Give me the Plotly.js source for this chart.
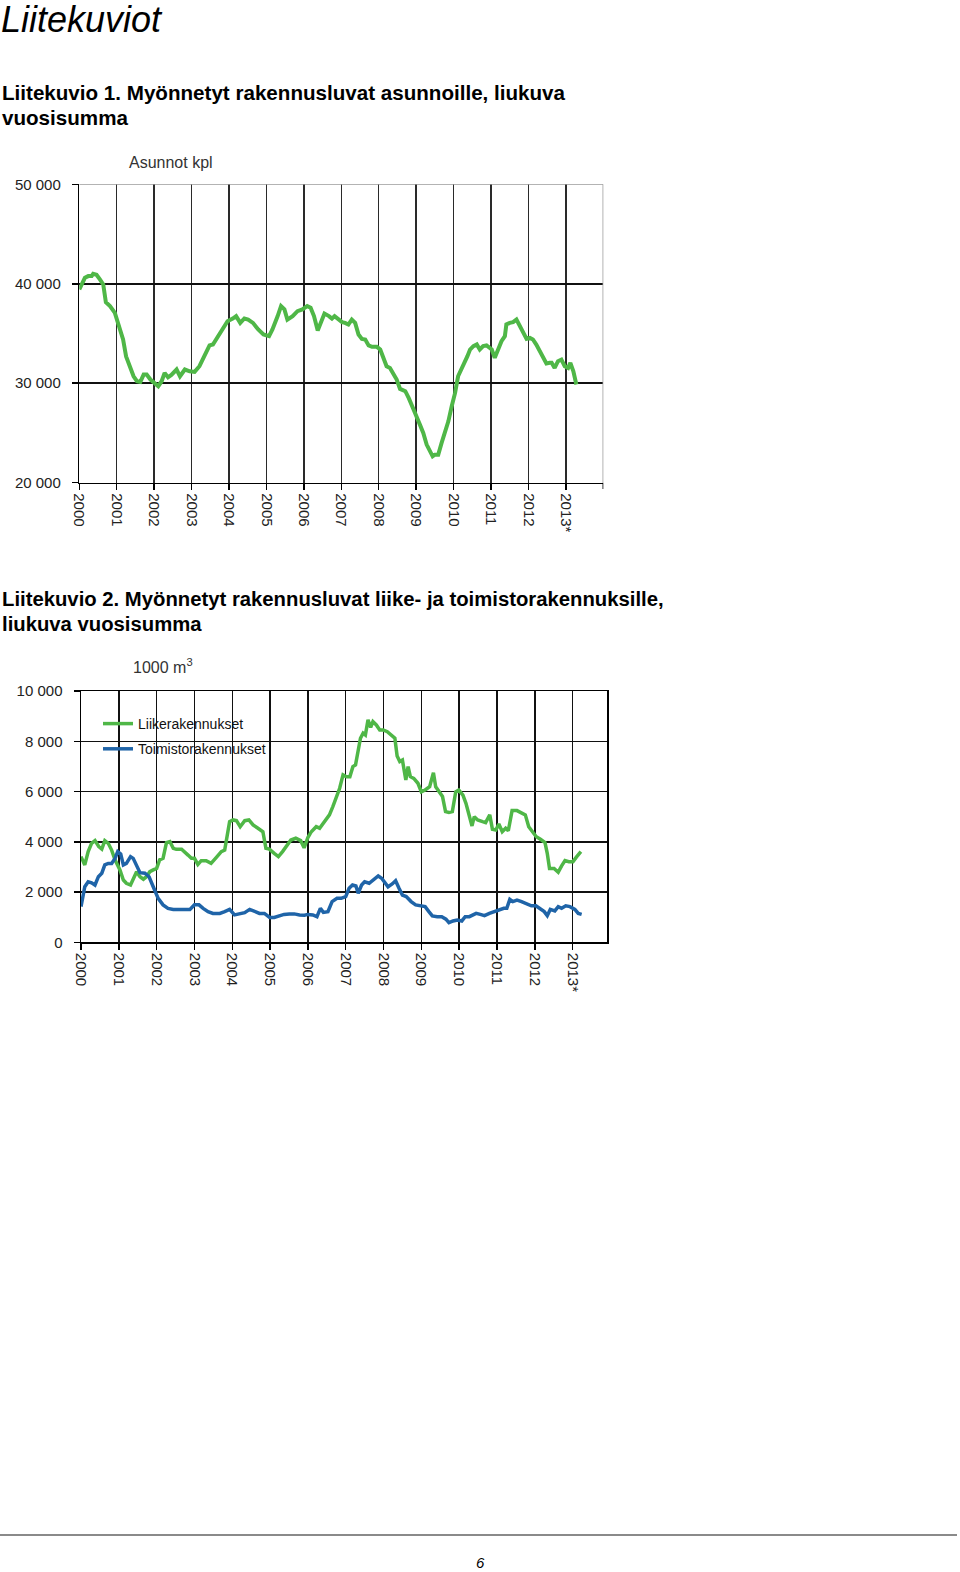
<!DOCTYPE html>
<html>
<head>
<meta charset="utf-8">
<script src="https://cdn.plot.ly/plotly-3.0.1.min.js"></script>
<style>
  html, body { margin: 0; padding: 0; background: #fff; }
  #page { width: 960px; height: 1572px; }
</style>
</head>
<body>
<div id="page"></div>
<script>
// ---------- Data ----------
const yearTicks = [2000, 2001, 2002, 2003, 2004, 2005, 2006, 2007, 2008, 2009, 2010, 2011, 2012, 2013];
const yearLabels = ['2000', '2001', '2002', '2003', '2004', '2005', '2006', '2007', '2008', '2009', '2010', '2011', '2012', '2013*'];

const housingTicks = [20000, 30000, 40000, 50000];
const housingTickLabels = ['20 000', '30 000', '40 000', '50 000'];

const volumeTicks = [0, 2000, 4000, 6000, 8000, 10000];
const volumeTickLabels = ['0', '2 000', '4 000', '6 000', '8 000', '10 000'];

// Liitekuvio 1: Asunnot kpl (rolling annual sum)
const housingYears = [
  2000.00, 2000.15, 2000.24, 2000.33, 2000.37, 2000.46, 2000.55, 2000.64, 2000.71, 2000.82, 2000.95,
  2001.08, 2001.17, 2001.25, 2001.36, 2001.45, 2001.54, 2001.63, 2001.72, 2001.80, 2001.90,
  2002.02, 2002.11, 2002.20, 2002.28, 2002.37, 2002.46, 2002.60, 2002.69, 2002.82, 2002.95,
  2003.08, 2003.21, 2003.34, 2003.48, 2003.57, 2003.70, 2003.83, 2003.96,
  2004.10, 2004.19, 2004.30, 2004.41, 2004.51, 2004.64, 2004.78, 2004.92,
  2005.07, 2005.16, 2005.30, 2005.39, 2005.48, 2005.56, 2005.70, 2005.83, 2005.96,
  2006.09, 2006.18, 2006.27, 2006.37, 2006.46, 2006.55, 2006.67, 2006.75, 2006.82, 2006.93,
  2007.02, 2007.10, 2007.19, 2007.28, 2007.37, 2007.46, 2007.55, 2007.64, 2007.73, 2007.82, 2007.95,
  2008.04, 2008.12, 2008.21, 2008.30, 2008.39, 2008.48, 2008.57, 2008.71, 2008.80, 2008.88, 2008.97,
  2009.10, 2009.19, 2009.28, 2009.37, 2009.44, 2009.50, 2009.59, 2009.68, 2009.77, 2009.86, 2009.95,
  2010.04, 2010.12, 2010.21, 2010.30, 2010.37, 2010.44, 2010.53, 2010.62, 2010.70, 2010.79, 2010.88,
  2011.02, 2011.10, 2011.19, 2011.28, 2011.37, 2011.41, 2011.50, 2011.59, 2011.68, 2011.77, 2011.86, 2011.95,
  2012.04, 2012.12, 2012.21, 2012.30, 2012.39, 2012.48, 2012.57, 2012.62, 2012.70, 2012.79, 2012.88, 2012.97,
  2013.06, 2013.12, 2013.20, 2013.28
];
const housingUnits = [
  39430, 40600, 40770, 40770, 41000, 40900, 40440, 39930, 38150, 37750, 37080,
  35400, 34400, 32700, 31700, 30700, 30200, 30130, 30870, 30870, 30370,
  30000, 29700, 30200, 31040, 30600, 30840, 31380, 30700, 31380, 31200,
  31140, 31710, 32720, 33800, 33900, 34730, 35400, 36240,
  36500, 36750, 36070, 36510, 36400, 36070, 35400, 34900,
  34730, 35400, 36750, 37750, 37420, 36400, 36750, 37250, 37420,
  37750, 37600, 36750, 35300, 36220, 37000, 36750, 36500, 36750, 36400,
  36140, 36070, 35900, 36400, 36070, 34900, 34460, 34400, 33800, 33660, 33660,
  33390, 32550, 31710, 31540, 30870, 30370, 29430, 29200, 28520, 27680, 27010,
  25840, 25000, 23830, 23160, 22650, 22820, 22820, 24000, 25000, 26170, 27680,
  29030, 30700, 31380, 32050, 32720, 33390, 33730, 33900, 33390, 33730, 33800,
  33390, 32550, 33390, 34230, 34730, 35910, 36070, 36140, 36400, 35740, 35070, 34460,
  34560, 34400, 33890, 33220, 32550, 31980, 32050, 32050, 31540, 32220, 32380, 31710,
  31540, 32050, 31210, 29870
];

// Liitekuvio 2: 1000 m3 (rolling annual sum)
const liikeYears = [
  2000.00, 2000.10, 2000.19, 2000.28, 2000.37, 2000.47, 2000.55, 2000.63, 2000.72, 2000.81, 2000.90,
  2001.03, 2001.12, 2001.20, 2001.31, 2001.38, 2001.47, 2001.56, 2001.65, 2001.73, 2001.82, 2001.91,
  2002.00, 2002.08, 2002.17, 2002.26, 2002.35, 2002.44, 2002.52, 2002.66, 2002.74, 2002.83, 2002.92,
  2003.00, 2003.09, 2003.18, 2003.31, 2003.44, 2003.58, 2003.71, 2003.80, 2003.89, 2003.93,
  2004.02, 2004.11, 2004.21, 2004.33, 2004.44, 2004.55, 2004.68, 2004.81, 2004.89, 2004.98,
  2005.11, 2005.22, 2005.33, 2005.42, 2005.55, 2005.68, 2005.81, 2005.90,
  2006.00, 2006.09, 2006.22, 2006.31, 2006.40, 2006.49, 2006.57, 2006.66, 2006.75, 2006.84, 2006.93,
  2007.02, 2007.11, 2007.19, 2007.26, 2007.33, 2007.39, 2007.46, 2007.52, 2007.59, 2007.66, 2007.72, 2007.81, 2007.90, 2007.99,
  2008.10, 2008.21, 2008.30, 2008.36, 2008.43, 2008.50, 2008.59, 2008.65, 2008.71, 2008.80, 2008.91,
  2009.00, 2009.10, 2009.22, 2009.32, 2009.38, 2009.47, 2009.56, 2009.64, 2009.73, 2009.82, 2009.91, 2009.99,
  2010.10, 2010.18, 2010.27, 2010.34, 2010.40, 2010.49, 2010.62, 2010.70, 2010.81, 2010.88, 2010.97,
  2011.05, 2011.14, 2011.23, 2011.30, 2011.40, 2011.53, 2011.65, 2011.75, 2011.84, 2011.93,
  2012.04, 2012.15, 2012.27, 2012.33, 2012.39, 2012.51, 2012.62, 2012.71, 2012.80, 2012.90,
  2013.01, 2013.11, 2013.22
];
const liikeVolume = [
  3410, 3080, 3610, 3940, 4045, 3810, 3710, 4045, 3940, 3670, 3280,
  2880, 2480, 2350, 2280, 2480, 2810, 2610, 2510, 2610, 2810, 2880,
  2940, 3280, 3340, 3970, 4010, 3740, 3700, 3700, 3610, 3470, 3340,
  3340, 3100, 3250, 3250, 3140, 3380, 3610, 3670, 4400, 4800,
  4870, 4840, 4600, 4840, 4870, 4670, 4540, 4400, 3740, 3710,
  3540, 3410, 3610, 3810, 4070, 4140, 4045, 3760,
  4170, 4400, 4600, 4540, 4730, 4870, 5070, 5400, 5800, 6130, 6660,
  6590, 6590, 6990, 7060, 7650, 8120, 8320, 8250, 8850, 8550, 8780, 8650, 8450, 8450,
  8380, 8250, 8120, 7410, 7190, 7250, 6460, 6990, 6590, 6520, 6330,
  5990, 6060, 6190, 6750, 6190, 5990, 5800, 5200, 5170, 5200, 5990, 6060,
  5860, 5530, 5000, 4630, 5000, 4870, 4800, 4760, 5070, 4500, 4470,
  4710, 4400, 4540, 4440, 5240, 5240, 5160, 5070, 4600, 4400,
  4200, 4100, 3970, 3540, 2940, 2940, 2790, 3040, 3250, 3210,
  3210, 3410, 3610
];

const toimistoYears = [
  2000.00, 2000.10, 2000.19, 2000.28, 2000.37, 2000.46, 2000.55, 2000.63, 2000.72, 2000.81, 2000.90, 2000.97,
  2001.05, 2001.12, 2001.20, 2001.31, 2001.38, 2001.47, 2001.56, 2001.69, 2001.80, 2001.91,
  2002.04, 2002.17, 2002.30, 2002.44, 2002.57, 2002.70, 2002.88,
  2003.00, 2003.12, 2003.23, 2003.36, 2003.49, 2003.67, 2003.80, 2003.93,
  2004.06, 2004.20, 2004.33, 2004.46, 2004.59, 2004.72, 2004.85, 2004.99,
  2005.11, 2005.24, 2005.37, 2005.51, 2005.64, 2005.78, 2005.91,
  2006.00, 2006.13, 2006.24, 2006.33, 2006.41, 2006.53, 2006.64, 2006.77, 2006.88,
  2007.00, 2007.09, 2007.18, 2007.27, 2007.33, 2007.42, 2007.50, 2007.62, 2007.73, 2007.86, 2007.95,
  2008.04, 2008.12, 2008.23, 2008.32, 2008.41, 2008.50, 2008.60, 2008.73, 2008.85, 2008.98,
  2009.10, 2009.20, 2009.29, 2009.42, 2009.54, 2009.65, 2009.73, 2009.84, 2009.95,
  2010.07, 2010.16, 2010.27, 2010.36, 2010.45, 2010.56, 2010.67, 2010.80, 2010.94,
  2011.05, 2011.18, 2011.26, 2011.34, 2011.42, 2011.53, 2011.65, 2011.78, 2011.91,
  2012.03, 2012.13, 2012.25, 2012.33, 2012.41, 2012.53, 2012.62, 2012.71, 2012.82, 2012.93,
  2013.06, 2013.15, 2013.24
];
const toimistoVolume = [
  1420, 2210, 2410, 2370, 2280, 2610, 2750, 3080, 3140, 3140, 3340, 3610,
  3510, 3080, 3140, 3410, 3340, 3040, 2770, 2750, 2610, 2210,
  1750, 1490, 1350, 1310, 1310, 1310, 1310,
  1490, 1490, 1350, 1220, 1150, 1150, 1220, 1310,
  1090, 1150, 1180, 1310, 1220, 1150, 1150, 990,
  990, 1050, 1110, 1130, 1130, 1090, 1080,
  1110, 1090, 1020, 1350, 1190, 1220, 1620, 1750, 1750,
  1820, 2150, 2280, 2240, 1950, 2280, 2410, 2350, 2480, 2640, 2550,
  2350, 2210, 2320, 2450, 2150, 1880, 1820, 1620, 1490, 1450,
  1420, 1220, 1050, 1020, 1020, 920, 780, 850, 890,
  850, 1020, 1020, 1090, 1150, 1110, 1060, 1150, 1220,
  1260, 1350, 1350, 1710, 1620, 1680, 1620, 1530, 1450,
  1450, 1350, 1220, 1060, 1310, 1250, 1420, 1350, 1450, 1420,
  1310, 1150, 1110
];

// ---------- Helpers (page pixel -> paper coordinates) ----------
const W = 960, H = 1572;
const px = v => v / W;
const py = v => 1 - v / H;

const FONT = 'Liberation Sans, Arial, Helvetica, sans-serif';
const GREEN = '#4fb747';
const BLUE = '#1f64a8';

const traces = [
  {
    x: housingYears, y: housingUnits, xaxis: 'x', yaxis: 'y',
    type: 'scatter', mode: 'lines', showlegend: false,
    line: { color: GREEN, width: 4, shape: 'linear' }, hoverinfo: 'skip'
  },
  {
    x: liikeYears, y: liikeVolume, xaxis: 'x2', yaxis: 'y2',
    type: 'scatter', mode: 'lines', name: 'Liikerakennukset', legendgroup: 'a',
    line: { color: GREEN, width: 3.5 }, hoverinfo: 'skip'
  },
  {
    x: toimistoYears, y: toimistoVolume, xaxis: 'x2', yaxis: 'y2',
    type: 'scatter', mode: 'lines', name: 'Toimistorakennukset', legendgroup: 'b',
    line: { color: BLUE, width: 3.5 }, hoverinfo: 'skip'
  }
];

const tickFont = { family: FONT, size: 15, color: '#222' };

const commonX = {
  tickangle: 90, ticks: 'outside', ticklen: 6, tickwidth: 1.5, tickcolor: '#000',
  showgrid: true, gridwidth: 1.5, zeroline: false,
  showline: true, linewidth: 1.5, linecolor: '#000',
  tickfont: tickFont, fixedrange: true
};
const commonY = {
  ticks: 'outside', ticklen: 6, tickwidth: 1.5, tickcolor: '#000',
  showgrid: true, gridwidth: 1.5, zeroline: false,
  showline: true, linewidth: 1.5, linecolor: '#000',
  tickfont: tickFont, fixedrange: true, ticklabelstandoff: 8
};

const layout = {
  width: W, height: H,
  margin: { l: 0, r: 0, t: 0, b: 0, pad: 0 },
  paper_bgcolor: '#fff', plot_bgcolor: '#fff',
  font: { family: FONT, color: '#000' },
  showlegend: true,
  legend: {
    x: px(98), y: py(708), xanchor: 'left', yanchor: 'top',
    bgcolor: 'rgba(0,0,0,0)', borderwidth: 0,
    traceorder: 'grouped', tracegroupgap: 4,
    font: { family: FONT, size: 14, color: '#111' },
    itemclick: false, itemdoubleclick: false
  },
  xaxis: Object.assign({}, commonX, {
    domain: [px(79.3), px(603.3)], range: [2000, 2014], anchor: 'y',
    tickvals: yearTicks, ticktext: yearLabels,
    gridcolor: '#2a2a2a'
  }),
  yaxis: Object.assign({}, commonY, {
    domain: [py(482.7), py(184.3)], range: [20000, 50000], anchor: 'x',
    tickvals: housingTicks, ticktext: housingTickLabels,
    gridcolor: '#111'
  }),
  xaxis2: Object.assign({}, commonX, {
    domain: [px(81), px(607)], range: [2000, 2013.91], anchor: 'y2',
    tickvals: yearTicks, ticktext: yearLabels,
    gridcolor: '#111', mirror: true
  }),
  yaxis2: Object.assign({}, commonY, {
    domain: [py(942.3), py(691)], range: [0, 10000], anchor: 'x2',
    tickvals: volumeTicks, ticktext: volumeTickLabels,
    gridcolor: '#111', mirror: true
  }),
  shapes: [
    // chart 1 grey top and right frame
    { type: 'line', xref: 'x', yref: 'y', x0: 2000, x1: 2014, y0: 50000, y1: 50000,
      line: { color: '#9a9a9a', width: 1.5 }, layer: 'above' },
    { type: 'line', xref: 'x', yref: 'y', x0: 2014, x1: 2014, y0: 20000, y1: 50000,
      line: { color: '#9a9a9a', width: 1.5 }, layer: 'above' },
    // chart 1 closing tick mark at the right end of the x axis
    { type: 'line', xref: 'x', yref: 'paper', x0: 2014, x1: 2014, y0: py(482.7), y1: py(489),
      line: { color: '#000', width: 1.5 } },
    // chart 2 legend background
    { type: 'rect', xref: 'paper', yref: 'paper', x0: px(96), x1: px(279), y0: py(759), y1: py(708),
      fillcolor: '#fff', line: { width: 0 }, layer: 'between' },
    // footer rule
    { type: 'line', xref: 'paper', yref: 'paper', x0: 0, x1: px(957), y0: py(1535), y1: py(1535),
      line: { color: '#8a8a8a', width: 2 } }
  ],
  annotations: [
    { text: '<i>Liitekuviot</i>', xref: 'paper', yref: 'paper', x: px(0), y: py(20),
      xanchor: 'left', yanchor: 'middle', showarrow: false, borderpad: 0,
      font: { family: FONT, size: 36, color: '#000' } },
    { text: '<b>Liitekuvio 1. Myönnetyt rakennusluvat asunnoille, liukuva</b>', xref: 'paper', yref: 'paper',
      x: px(0), y: py(92.5), xanchor: 'left', yanchor: 'middle', showarrow: false,
      font: { family: FONT, size: 20.6, color: '#000' } },
    { text: '<b>vuosisumma</b>', xref: 'paper', yref: 'paper',
      x: px(0), y: py(117.5), xanchor: 'left', yanchor: 'middle', showarrow: false,
      font: { family: FONT, size: 20.6, color: '#000' } },
    { text: 'Asunnot kpl', xref: 'paper', yref: 'paper',
      x: px(171), y: py(162), xanchor: 'center', yanchor: 'middle', showarrow: false,
      font: { family: FONT, size: 16, color: '#333' } },
    { text: '<b>Liitekuvio 2. Myönnetyt rakennusluvat liike- ja toimistorakennuksille,</b>', xref: 'paper', yref: 'paper',
      x: px(0), y: py(599), xanchor: 'left', yanchor: 'middle', showarrow: false,
      font: { family: FONT, size: 20.3, color: '#000' } },
    { text: '<b>liukuva vuosisumma</b>', xref: 'paper', yref: 'paper',
      x: px(0), y: py(624), xanchor: 'left', yanchor: 'middle', showarrow: false,
      font: { family: FONT, size: 20.3, color: '#000' } },
    { text: '1000 m<sup>3</sup>', xref: 'paper', yref: 'paper',
      x: px(163), y: py(666), xanchor: 'center', yanchor: 'middle', showarrow: false,
      font: { family: FONT, size: 16, color: '#333' } },
    { text: '<i>6</i>', xref: 'paper', yref: 'paper',
      x: px(480), y: py(1562), xanchor: 'center', yanchor: 'middle', showarrow: false,
      font: { family: FONT, size: 15, color: '#000' } }
  ]
};

Plotly.newPlot('page', traces, layout, { staticPlot: true, displayModeBar: false });
</script>
</body>
</html>
